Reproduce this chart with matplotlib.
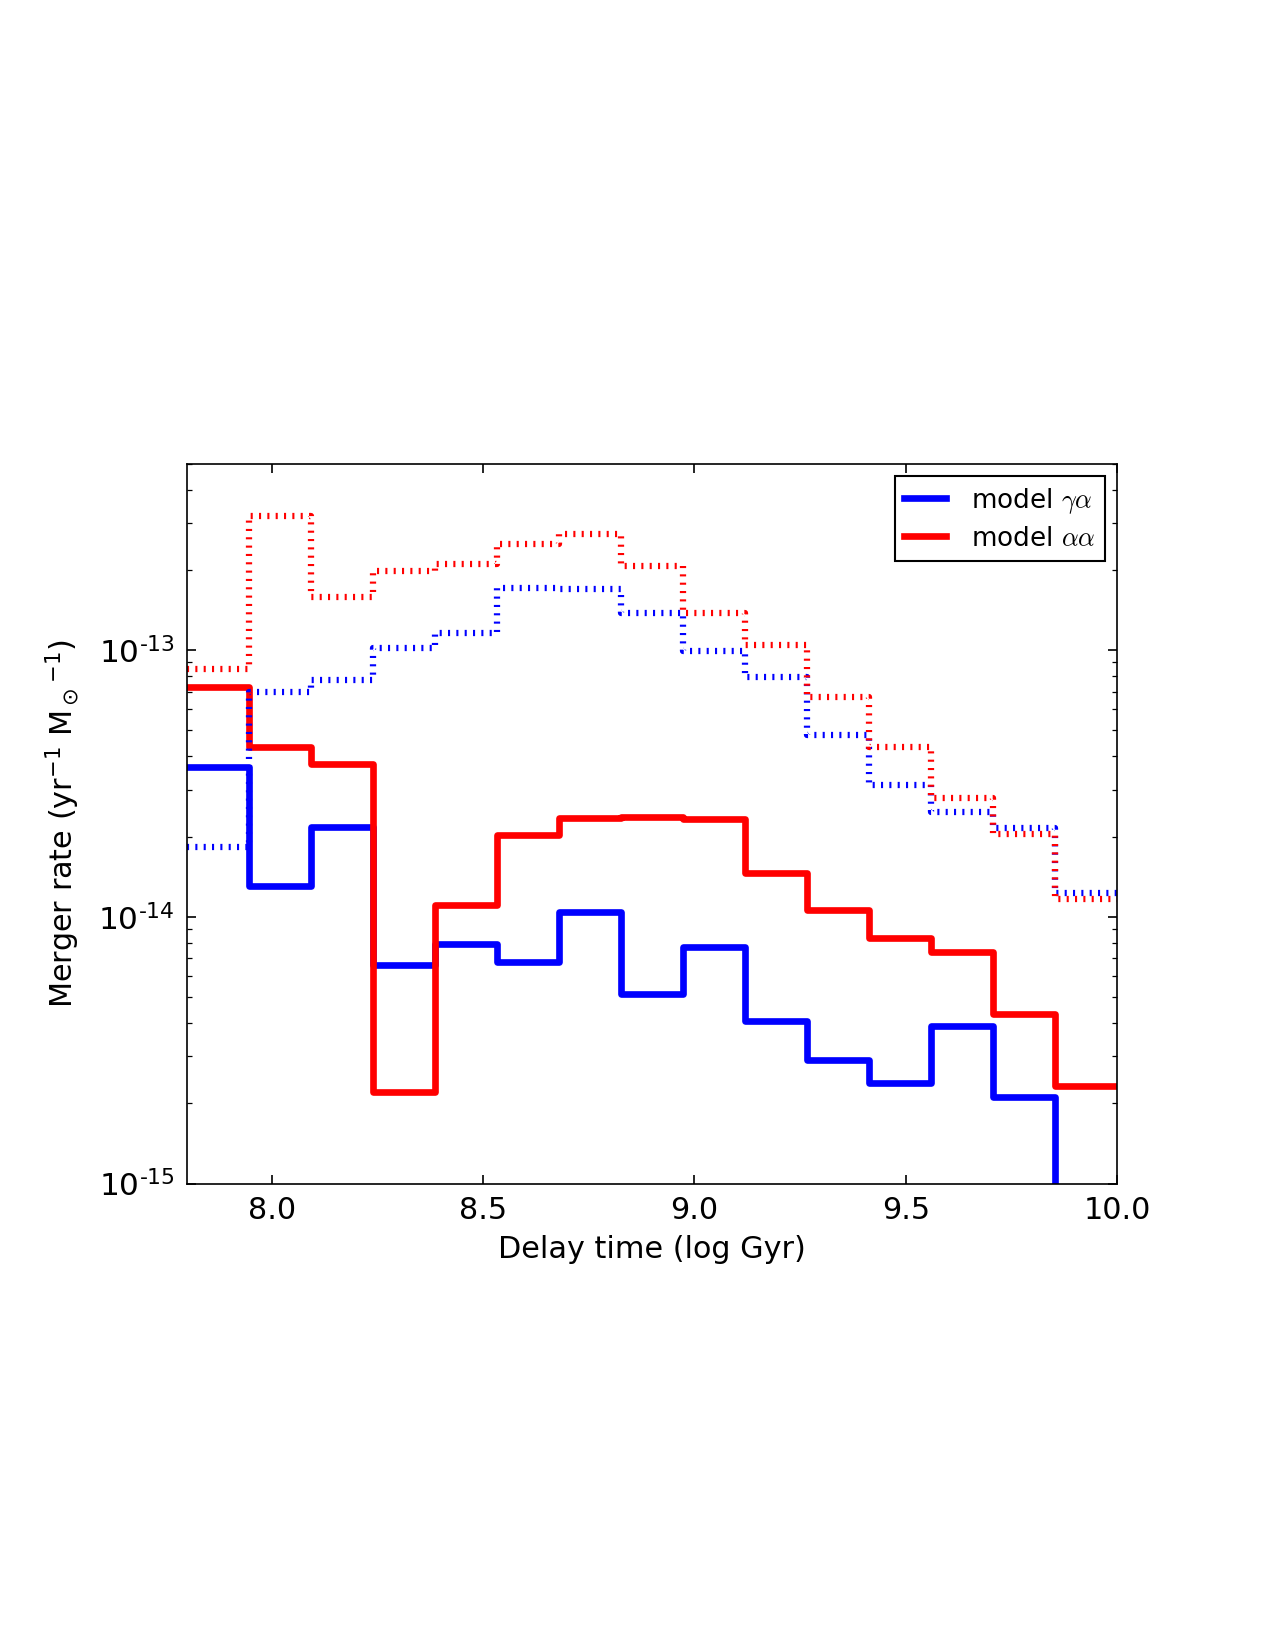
import numpy as np
import matplotlib
matplotlib.use('Agg')
import matplotlib.pyplot as plt
from matplotlib.font_manager import FontProperties

# bin edges of the delay-time histogram (log yr)
edges = np.linspace(7.8, 10.0, 16)

# merger rates per bin, yr^-1 Msun^-1
ga_solid = [3.66e-14, 1.31e-14, 2.17e-14, 6.61e-15, 7.89e-15, 6.76e-15, 1.04e-14,
            5.16e-15, 7.73e-15, 4.08e-15, 2.90e-15, 2.38e-15, 3.91e-15, 2.12e-15, 1e-17]
aa_solid = [7.28e-14, 4.35e-14, 3.73e-14, 2.21e-15, 1.11e-14, 2.03e-14, 2.34e-14,
            2.37e-14, 2.33e-14, 1.46e-14, 1.06e-14, 8.32e-15, 7.41e-15, 4.31e-15, 2.32e-15]
ga_dotted = [1.83e-14, 6.95e-14, 7.76e-14, 1.02e-13, 1.16e-13, 1.71e-13, 1.70e-13,
             1.38e-13, 9.97e-14, 7.96e-14, 4.79e-14, 3.13e-14, 2.47e-14, 2.15e-14, 1.23e-14]
aa_dotted = [8.5e-14, 3.19e-13, 1.59e-13, 1.99e-13, 2.10e-13, 2.50e-13, 2.72e-13,
             2.07e-13, 1.38e-13, 1.05e-13, 6.67e-14, 4.32e-14, 2.80e-14, 2.04e-14, 1.17e-14]

yticks = [1e-15, 1e-14, 1e-13]
ytick_labels = [r'$10^{\text{-15}}$', r'$10^{\text{-14}}$', r'$10^{\text{-13}}$']

plt.rcParams['font.size'] = 14
plt.rcParams['lines.scale_dashes'] = False
plt.rcParams['xtick.direction'] = 'in'
plt.rcParams['ytick.direction'] = 'in'
plt.rcParams['xtick.top'] = True
plt.rcParams['ytick.right'] = True
plt.rcParams['xtick.major.size'] = 4.5
plt.rcParams['ytick.major.size'] = 4.5
plt.rcParams['ytick.minor.size'] = 2.5
plt.rcParams['xtick.major.pad'] = 6
plt.rcParams['ytick.major.pad'] = 6
plt.rcParams['xtick.labelsize'] = 14.5
plt.rcParams['ytick.labelsize'] = 15

fig = plt.figure(figsize=(8.5, 11), dpi=150)
ax = fig.add_axes([0.1469, 0.2827, 0.7293, 0.4362])

def step(vals, **kw):
    v = np.append(vals, vals[-1])
    return ax.step(edges, v, where='post', **kw)

l1, = step(ga_solid, color='blue', lw=3.2)
l2, = step(aa_solid, color='red', lw=3.2)
step(ga_dotted, color='blue', lw=3, dashes=(1, 3))
step(aa_dotted, color='red', lw=3, dashes=(1, 3))

ax.set_yscale('log')
ax.set_xlim(7.8, 10.0)
ax.set_ylim(1e-15, 5e-13)
ax.set_xticks([8.0, 8.5, 9.0, 9.5, 10.0])
ax.set_xticklabels(['8.0', '8.5', '9.0', '9.5', '10.0'])
ax.set_yticks(yticks)
ax.set_yticklabels(ytick_labels)
ax.set_xlabel('Delay time (log Gyr)', fontsize=14.5, labelpad=5)
ax.set_ylabel(r'Merger rate (yr$^{-1}$ M$_\odot$$^{-1}$)', fontsize=14.5, labelpad=8)

leg = ax.legend([l1, l2], [r'model $\gamma\alpha$', r'model $\alpha\alpha$'],
                loc='upper right', fancybox=False, framealpha=1, edgecolor='black',
                prop=FontProperties(size=12.6, math_fontfamily='cm'),
                handlelength=1.6, handletextpad=0.95, borderpad=0.35,
                labelspacing=0.38, borderaxespad=0.48)
leg.get_frame().set_linewidth(1.0)

fig.savefig('out.png', dpi=150)
